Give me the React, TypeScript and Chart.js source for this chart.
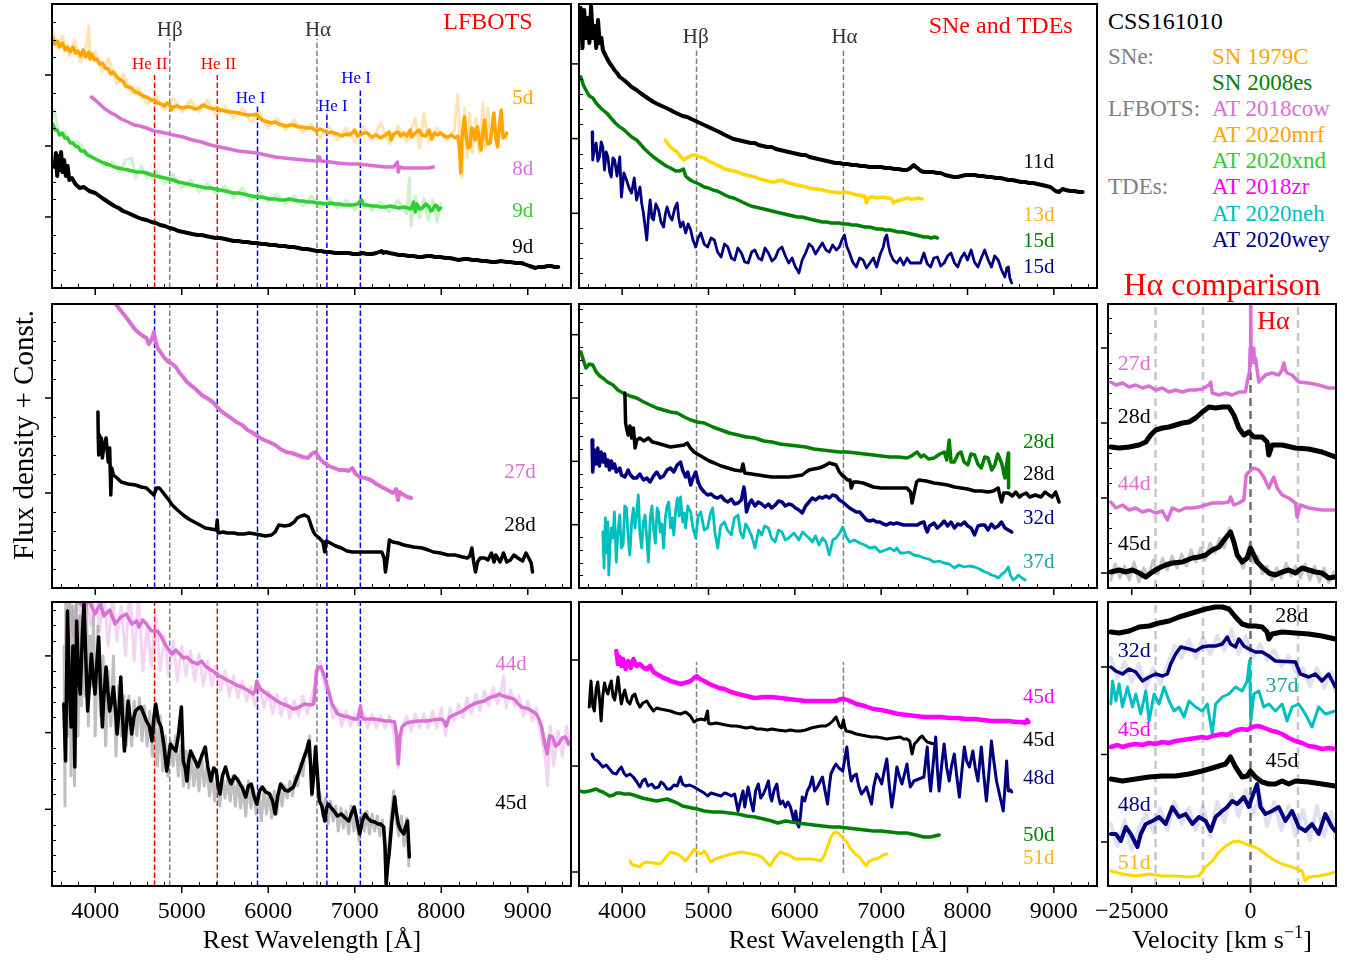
import React, { useEffect, useRef } from "react";
import { Chart, registerables } from "chart.js";

Chart.register(...registerables);

type Pt = [number, number];

// ---------------- tick values / reference lines ----------------
const waveTicks = [4000, 5000, 6000, 7000, 8000, 9000];
const velTicks = [-25000, 0];
const heIILines = [4686, 5411];
const balmerLines = [4861, 6563];
const heILines = [5876, 6678, 7065];
const velGuides = [-20000, -10000, 10000];
const velZero = [0];

const legendHeads = ["SNe:", "LFBOTS:", "TDEs:"];
const legendHeadRows = [0, 2, 5];
const legendNames = ["SN 1979C", "SN 2008es", "AT 2018cow", "AT 2020mrf", "AT 2020xnd", "AT 2018zr", "AT 2020neh", "AT 2020wey"];

// ---------------- top-left: LFBOTs, early ----------------
const mrf5dRaw: Pt[] = [[3508,258],[3560,240],[3620,252],[3700,232],[3760,248],[3830,226],[3900,244],[3925,262],[3940,228],[4000,236],[4080,216],[4150,230],[4250,204],[4330,214],[4420,194],[4500,200],[4600,184],[4700,192],[4800,178],[4900,190],[5000,176],[5100,188],[5200,176],[5300,188],[5400,172],[5500,182],[5600,170],[5700,180],[5800,166],[5900,176],[6000,160],[6100,170],[6200,158],[6300,168],[6400,156],[6500,164],[6600,150],[6700,162],[6800,148],[6900,160],[7000,146],[7100,162],[7200,148],[7300,165],[7400,144],[7500,162],[7600,146],[7700,170],[7750,140],[7800,175],[7850,146],[7950,160],[8050,148],[8150,158],[8190,193],[8240,110],[8270,180],[8300,130],[8330,175],[8360,135],[8400,170],[8440,135],[8480,185],[8510,140],[8540,180],[8560,150]];
const mrf5d: Pt[] = [[3508,250],[3530,244],[3560,247],[3590,241],[3620,245],[3650,238],[3680,241],[3710,236],[3742,241],[3770,235],[3800,237],[3830,232],[3860,238],[3890,231],[3925,236],[3940,229],[3960,234],[3990,228],[4020,229],[4050,224],[4082,225],[4115,220],[4150,219],[4180,214],[4210,216],[4252,211],[4290,208],[4320,207],[4350,202],[4380,201],[4422,200],[4460,196],[4500,195],[4550,192],[4592,191],[4650,188],[4690,187],[4720,185],[4760,184],[4800,182],[4830,185],[4860,184],[4880,178],[4900,181],[4950,182],[5000,180],[5050,181],[5102,181],[5150,179],[5200,180],[5240,183],[5272,182],[5320,180],[5370,179],[5410,180],[5442,178],[5500,177],[5550,176],[5600,176],[5655,175],[5700,174],[5760,173],[5820,173],[5867,174],[5890,171],[5930,168],[5960,167],[6000,166],[6037,165],[6080,166],[6120,164],[6160,163],[6200,162],[6250,163],[6292,163],[6350,161],[6400,161],[6450,160],[6505,160],[6560,157],[6600,159],[6650,157],[6690,155],[6717,156],[6760,155],[6800,154],[6850,152],[6900,154],[6930,153],[6970,155],[7000,158],[7030,152],[7060,153],[7100,155],[7142,155],[7200,151],[7250,153],[7300,150],[7355,153],[7400,156],[7420,148],[7450,154],[7500,156],[7530,152],[7567,155],[7600,152],[7640,158],[7660,151],[7700,155],[7740,158],[7780,153],[7820,152],[7860,158],[7890,149],[7920,155],[7960,153],[7992,155],[8040,152],[8080,151],[8120,153],[8162,150],[8190,152],[8210,140],[8226,115],[8240,150],[8255,162],[8268,171],[8290,150],[8310,140],[8332,141],[8350,160],[8370,158],[8390,148],[8417,161],[8440,148],[8460,138],[8480,155],[8502,168],[8520,150],[8540,144],[8566,145],[8590,162],[8608,175],[8630,150],[8651,141],[8670,160],[8693,178],[8715,150],[8736,151],[8757,155]];
const cow8d: Pt[] = [[3955,191],[4000,188],[4050,184],[4100,180],[4167,176],[4230,173],[4300,169],[4380,166],[4450,163],[4520,162],[4592,160],[4680,157],[4750,156],[4805,155],[4900,153],[5017,151],[5120,148],[5230,146],[5330,143],[5442,141],[5550,139],[5655,137],[5760,136],[5867,135],[5970,133],[6080,131],[6180,130],[6292,129],[6420,128],[6547,127],[6575,127],[6590,131],[6610,127],[6717,126],[6800,125],[6930,124],[7030,124],[7142,123],[7250,122],[7355,121],[7450,121],[7493,126],[7503,116],[7520,121],[7567,120],[7680,120],[7780,120],[7850,120],[7907,121]];
const xnd9dRaw: Pt[] = [[3508,170],[3530,178],[3580,152],[3650,156],[3700,146],[3800,146],[3900,136],[4000,130],[4100,122],[4200,126],[4280,116],[4350,128],[4420,130],[4470,110],[4530,122],[4600,110],[4700,118],[4800,104],[4900,114],[5000,100],[5100,108],[5200,96],[5300,105],[5400,94],[5500,102],[5600,90],[5700,100],[5800,88],[5900,96],[6000,86],[6100,94],[6200,84],[6300,92],[6400,82],[6500,92],[6600,80],[6700,90],[6800,80],[6900,88],[7000,78],[7100,88],[7200,78],[7300,86],[7400,76],[7500,88],[7600,74],[7631,110],[7650,62],[7700,92],[7750,70],[7800,90],[7850,68],[7900,88],[7950,66],[7992,84]];
const xnd9d: Pt[] = [[3508,164],[3535,158],[3560,158],[3590,153],[3615,155],[3650,150],[3680,150],[3710,145],[3742,145],[3770,142],[3800,141],[3835,137],[3870,137],[3910,133],[3955,131],[4000,129],[4050,127],[4100,125],[4167,123],[4220,121],[4270,120],[4320,119],[4380,118],[4430,117],[4480,116],[4530,116],[4592,115],[4650,113],[4700,112],[4750,111],[4805,110],[4850,109],[4900,108],[4960,106],[5017,105],[5070,104],[5120,103],[5180,102],[5230,101],[5280,100],[5330,100],[5390,99],[5442,98],[5500,97],[5550,96],[5600,95],[5655,95],[5710,94],[5760,93],[5810,92],[5867,91],[5920,91],[5970,90],[6020,89],[6080,89],[6130,88],[6190,88],[6240,89],[6292,88],[6350,87],[6400,87],[6450,86],[6505,86],[6560,85],[6610,85],[6660,84],[6717,85],[6770,84],[6820,84],[6870,83],[6930,83],[6980,83],[7030,84],[7080,88],[7100,83],[7142,83],[7200,82],[7250,82],[7300,81],[7355,81],[7410,82],[7460,81],[7510,80],[7567,81],[7610,80],[7650,79],[7680,86],[7700,76],[7720,84],[7750,79],[7780,80],[7820,84],[7850,82],[7880,77],[7900,78],[7930,83],[7950,82],[7970,78],[7992,80]];
const css9d: Pt[] = [[3530,121],[3545,135],[3560,112],[3575,132],[3590,118],[3605,136],[3620,116],[3640,128],[3660,112],[3680,122],[3700,108],[3730,110],[3770,104],[3820,100],[3870,101],[3930,97],[4000,95],[4080,90],[4167,85],[4220,82],[4270,80],[4320,77],[4380,75],[4430,73],[4480,71],[4540,69],[4592,68],[4650,66],[4700,65],[4750,63],[4805,62],[4860,60],[4910,59],[4960,57],[5017,56],[5070,55],[5120,54],[5180,53],[5230,53],[5280,52],[5330,51],[5390,50],[5442,50],[5500,49],[5550,48],[5600,47],[5655,47],[5710,46],[5760,46],[5810,45],[5867,45],[5920,44],[5970,44],[6020,43],[6080,43],[6130,42],[6190,42],[6240,41],[6292,41],[6350,40],[6400,39],[6450,39],[6505,38],[6560,37],[6610,37],[6660,36],[6717,36],[6770,35],[6820,35],[6870,35],[6930,35],[6980,34],[7040,34],[7090,35],[7142,34],[7200,34],[7250,35],[7280,36],[7310,37],[7330,35],[7355,36],[7400,35],[7460,34],[7510,33],[7567,33],[7620,32],[7680,32],[7730,31],[7780,31],[7830,32],[7880,32],[7930,31],[7992,31],[8050,30],[8100,30],[8150,29],[8204,28],[8260,29],[8310,29],[8360,28],[8417,28],[8470,27],[8520,27],[8580,26],[8630,26],[8690,27],[8750,26],[8800,26],[8860,25],[8927,25],[8960,24],[8990,23],[9020,22],[9055,21],[9090,20],[9120,21],[9150,21],[9183,21],[9230,22],[9270,22],[9310,21],[9353,21]];

// ---------------- top-middle: SNe and TDEs, early ----------------
const css11d: Pt[] = [[3502,255],[3520,280],[3540,240],[3560,278],[3580,250],[3600,270],[3620,245],[3640,282],[3660,250],[3680,262],[3700,240],[3720,268],[3740,245],[3760,250],[3776,238],[3810,232],[3854,225],[3880,222],[3910,218],[3940,215],[3972,211],[4020,208],[4060,205],[4110,201],[4167,198],[4210,195],[4260,192],[4310,189],[4363,186],[4410,184],[4460,182],[4510,180],[4559,178],[4600,176],[4650,174],[4700,172],[4754,171],[4800,169],[4850,167],[4900,165],[4950,163],[5000,161],[5050,159],[5100,157],[5146,155],[5190,153],[5240,151],[5290,149],[5342,148],[5390,147],[5440,146],[5490,145],[5538,145],[5580,143],[5630,142],[5680,141],[5733,141],[5780,139],[5830,138],[5880,137],[5929,136],[5980,135],[6030,134],[6080,133],[6125,133],[6170,131],[6220,130],[6270,129],[6320,128],[6370,127],[6420,126],[6470,125],[6516,125],[6560,124],[6610,124],[6660,123],[6712,123],[6760,122],[6810,122],[6860,121],[6908,121],[6950,121],[7000,121],[7050,120],[7104,120],[7150,119],[7200,119],[7250,118],[7299,118],[7340,120],[7378,123],[7400,121],[7420,120],[7460,117],[7495,116],[7550,116],[7600,116],[7650,115],[7691,115],[7740,113],[7790,112],[7840,111],[7886,111],[7930,112],[7980,113],[8030,113],[8082,113],[8130,112],[8180,112],[8230,111],[8278,111],[8330,110],[8380,110],[8430,109],[8473,108],[8520,108],[8570,107],[8620,106],[8669,106],[8710,105],[8760,105],[8810,104],[8864,103],[8910,102],[8960,101],[8990,99],[9020,97],[9060,96],[9100,99],[9138,98],[9190,97],[9240,97],[9290,96],[9334,96]];
const sn1979c13d: Pt[] = [[4500,148],[4530,144],[4559,141],[4600,138],[4637,136],[4680,131],[4715,128],[4745,130],[4774,131],[4810,133],[4852,133],[4900,131],[4950,130],[5000,127],[5050,125],[5100,123],[5146,121],[5190,119],[5240,118],[5290,117],[5342,116],[5390,114],[5440,113],[5490,112],[5538,111],[5590,109],[5640,108],[5690,107],[5733,106],[5770,106],[5800,107],[5851,108],[5890,106],[5929,105],[5980,104],[6030,103],[6080,102],[6125,101],[6170,100],[6220,99],[6270,99],[6320,98],[6370,97],[6420,96],[6470,96],[6516,95],[6580,96],[6634,95],[6680,94],[6712,93],[6750,93],[6780,92],[6810,92],[6830,85],[6850,89],[6869,91],[6910,91],[6960,90],[7010,91],[7065,90],[7100,90],[7120,89],[7143,85],[7160,86],[7180,87],[7221,88],[7260,89],[7299,90],[7340,89],[7380,89],[7430,90],[7475,89]];
const sn2008es15d: Pt[] = [[3522,211],[3550,203],[3580,198],[3620,192],[3660,190],[3698,185],[3740,181],[3776,178],[3820,175],[3870,170],[3920,165],[3972,161],[4010,159],[4060,155],[4110,151],[4167,148],[4210,144],[4260,139],[4310,135],[4363,131],[4410,128],[4460,125],[4510,122],[4559,120],[4620,117],[4660,117],[4690,118],[4710,119],[4735,112],[4760,110],[4790,108],[4833,106],[4890,104],[4950,101],[5000,100],[5050,98],[5100,97],[5146,95],[5190,93],[5240,91],[5290,90],[5342,88],[5390,86],[5440,84],[5490,82],[5538,81],[5590,80],[5640,79],[5690,78],[5733,77],[5780,76],[5830,75],[5880,74],[5929,73],[5980,72],[6030,71],[6080,71],[6125,70],[6170,69],[6220,68],[6270,67],[6320,66],[6370,66],[6420,65],[6470,65],[6516,65],[6560,64],[6610,64],[6660,63],[6712,63],[6760,62],[6810,61],[6860,61],[6908,60],[6950,59],[7000,59],[7050,58],[7104,58],[7150,57],[7200,56],[7250,56],[7299,55],[7350,54],[7400,53],[7450,52],[7495,51],[7540,51],[7580,50],[7620,51],[7651,50]];
const wey15d: Pt[] = [[3651,156],[3659,128],[3680,140],[3698,145],[3718,127],[3737,131],[3757,146],[3776,141],[3795,118],[3815,136],[3835,131],[3855,116],[3874,111],[3893,130],[3913,128],[3940,112],[3972,131],[3991,91],[4020,115],[4050,108],[4080,100],[4109,95],[4140,110],[4167,88],[4206,101],[4226,85],[4246,75],[4265,62],[4285,48],[4305,72],[4324,88],[4345,70],[4363,68],[4390,84],[4422,78],[4450,66],[4480,61],[4500,74],[4520,81],[4550,72],[4578,68],[4610,80],[4637,85],[4655,70],[4676,61],[4705,66],[4735,55],[4765,64],[4794,58],[4820,48],[4852,41],[4880,50],[4911,55],[4950,44],[4989,41],[5030,50],[5068,48],[5105,36],[5146,31],[5185,44],[5224,41],[5265,30],[5303,28],[5340,40],[5381,35],[5420,26],[5459,25],[5500,36],[5538,38],[5578,30],[5616,28],[5655,40],[5694,35],[5735,27],[5773,30],[5810,38],[5851,41],[5890,32],[5929,25],[5968,30],[6007,21],[6030,18],[6047,15],[6085,28],[6125,35],[6165,44],[6203,41],[6240,34],[6281,40],[6320,45],[6360,38],[6400,36],[6438,43],[6480,38],[6516,41],[6545,48],[6575,53],[6600,42],[6634,35],[6670,26],[6712,21],[6750,30],[6790,28],[6830,20],[6869,25],[6910,30],[6947,21],[6990,34],[7025,41],[7045,50],[7065,53],[7085,42],[7104,35],[7140,28],[7182,25],[7220,30],[7260,23],[7300,30],[7338,25],[7400,25],[7456,25],[7475,30],[7495,35],[7535,24],[7573,21],[7610,30],[7651,31],[7690,22],[7729,25],[7770,32],[7808,35],[7850,25],[7886,21],[7925,30],[7964,35],[8000,28],[8042,38],[8080,26],[8121,21],[8160,30],[8199,38],[8240,28],[8277,21],[8315,32],[8355,28],[8395,18],[8433,11],[8455,20],[8473,21],[8490,10],[8512,5]];

// ---------------- middle-left: LFBOTs, ~4 weeks ----------------
const cow27d: Pt[] = [[4200,295],[4231,285],[4280,279],[4337,273],[4380,268],[4422,263],[4465,258],[4507,255],[4550,252],[4592,250],[4620,244],[4635,246],[4660,250],[4677,256],[4700,246],[4720,240],[4762,235],[4800,230],[4847,226],[4890,224],[4932,221],[4975,215],[5017,211],[5060,206],[5102,203],[5160,199],[5230,193],[5290,190],[5357,186],[5400,182],[5442,178],[5500,174],[5570,170],[5630,166],[5698,163],[5760,158],[5825,155],[5890,151],[5952,148],[6010,146],[6080,143],[6140,139],[6207,136],[6270,135],[6335,133],[6400,131],[6462,130],[6500,134],[6547,136],[6590,130],[6632,126],[6700,122],[6760,120],[6820,118],[6887,118],[6930,117],[6972,120],[7010,114],[7057,111],[7120,110],[7185,108],[7250,104],[7312,101],[7380,98],[7440,95],[7480,99],[7500,88],[7520,96],[7567,93],[7610,91],[7652,90]];
const css28dA: Pt[] = [[4031,176],[4035,150],[4040,133],[4050,153],[4060,138],[4070,150],[4082,130],[4100,142],[4125,150],[4150,126],[4167,140],[4180,93],[4190,120],[4210,113],[4252,110],[4300,106],[4380,104],[4465,103],[4530,101],[4592,100],[4640,96],[4677,93],[4710,100],[4741,100],[4770,97],[4805,93],[4850,88],[4890,83],[4950,78],[5017,73],[5080,69],[5145,66],[5210,63],[5272,60],[5340,59],[5400,58],[5410,68],[5420,55],[5480,56],[5527,55],[5600,55],[5655,54],[5720,54],[5782,55],[5850,54],[5910,53],[5970,52],[6037,53],[6080,56],[6122,63],[6190,62],[6250,63],[6300,66],[6335,70],[6380,72],[6420,73],[6462,71],[6490,64],[6505,60],[6530,55],[6547,53],[6590,50],[6632,46],[6653,36],[6670,47],[6717,45],[6780,42],[6845,40],[6910,37],[6972,36],[7060,36],[7142,36],[7230,36],[7312,36],[7340,30],[7355,16],[7380,32],[7400,48],[7440,46],[7500,45],[7567,43],[7680,41],[7780,40],[7850,38],[7907,36],[7990,35],[8077,33],[8160,33],[8247,31],[8300,30],[8330,32],[8354,40],[8375,26],[8396,16],[8420,26],[8450,30],[8502,30],[8540,28],[8580,35],[8610,26],[8630,33],[8680,26],[8720,35],[8757,26],[8800,28],[8840,33],[8885,30],[8940,27],[8980,35],[9012,30],[9040,25],[9055,16]];

// ---------------- middle-middle: SNe and TDEs, ~4-5 weeks ----------------
const sn2008es28d: Pt[] = [[3522,236],[3550,228],[3580,220],[3620,224],[3659,223],[3700,216],[3740,212],[3776,210],[3830,206],[3894,203],[3950,198],[4011,195],[4090,192],[4167,190],[4250,186],[4324,183],[4400,180],[4480,178],[4560,176],[4637,175],[4720,171],[4794,168],[4870,166],[4950,165],[5050,161],[5146,158],[5240,155],[5342,153],[5440,151],[5538,150],[5640,147],[5733,146],[5830,144],[5929,143],[6030,142],[6125,141],[6220,139],[6320,138],[6420,137],[6516,136],[6610,136],[6712,135],[6810,134],[6908,133],[7000,132],[7104,131],[7200,131],[7299,130],[7350,132],[7417,136],[7460,131],[7495,133],[7550,129],[7612,130],[7680,134],[7730,136],[7760,128],[7788,148],[7810,126],[7847,126],[7890,134],[7925,136],[7960,126],[8003,123],[8040,134],[8082,133],[8120,124],[8160,120],[8200,131],[8238,130],[8280,118],[8316,123],[8350,134],[8395,125],[8434,110],[8460,128],[8473,135],[8476,100]];
const css28dB: Pt[] = [[4031,195],[4040,165],[4050,160],[4070,153],[4090,162],[4110,150],[4130,160],[4150,140],[4170,148],[4206,150],[4250,147],[4305,150],[4350,146],[4402,145],[4480,143],[4559,141],[4640,142],[4716,143],[4754,145],[4790,140],[4833,136],[4890,133],[4950,130],[5010,127],[5068,125],[5146,122],[5225,120],[5300,118],[5380,117],[5400,124],[5420,115],[5500,114],[5577,113],[5650,112],[5733,111],[5830,111],[5929,111],[6010,112],[6086,113],[6130,116],[6164,118],[6220,119],[6281,120],[6340,122],[6399,125],[6440,124],[6477,123],[6500,119],[6516,116],[6545,113],[6575,111],[6610,108],[6640,108],[6653,100],[6680,106],[6720,106],[6790,105],[6850,103],[6908,101],[7000,100],[7104,100],[7200,100],[7299,100],[7340,96],[7358,85],[7380,94],[7410,106],[7436,108],[7520,107],[7612,105],[7700,104],[7769,103],[7850,101],[7925,100],[8000,99],[8082,97],[8160,97],[8238,96],[8300,97],[8356,100],[8375,92],[8395,86],[8420,95],[8473,95],[8520,92],[8560,96],[8600,91],[8630,93],[8680,95],[8720,91],[8786,93],[8850,91],[8900,96],[8943,93],[8980,91],[9021,96],[9045,90],[9060,86]];
const wey32d: Pt[] = [[3651,148],[3659,116],[3678,138],[3698,124],[3717,140],[3737,122],[3757,136],[3776,126],[3796,134],[3815,122],[3835,128],[3854,118],[3874,127],[3893,120],[3913,124],[3932,116],[3972,120],[3991,113],[4031,111],[4070,118],[4089,114],[4128,110],[4167,110],[4206,114],[4246,108],[4285,110],[4324,106],[4363,112],[4402,116],[4441,110],[4480,112],[4520,118],[4559,120],[4598,116],[4637,123],[4676,126],[4700,118],[4735,111],[4760,116],[4794,103],[4820,110],[4852,116],[4880,106],[4911,100],[4950,96],[4989,93],[5030,94],[5068,91],[5107,90],[5146,92],[5185,88],[5224,86],[5264,89],[5303,84],[5342,85],[5381,88],[5410,101],[5420,96],[5440,76],[5470,84],[5499,88],[5538,82],[5577,86],[5616,84],[5655,81],[5694,84],[5733,80],[5773,83],[5812,87],[5851,86],[5890,82],[5929,84],[5968,83],[6007,80],[6047,78],[6086,75],[6125,82],[6164,86],[6203,90],[6242,88],[6281,91],[6320,90],[6360,92],[6399,90],[6438,93],[6477,92],[6516,88],[6555,86],[6594,83],[6634,80],[6673,78],[6712,76],[6751,76],[6790,72],[6830,68],[6869,67],[6908,68],[6947,66],[6986,66],[7025,64],[7065,63],[7104,65],[7143,64],[7182,65],[7221,64],[7260,63],[7299,63],[7378,63],[7420,63],[7456,65],[7495,66],[7515,60],[7534,56],[7560,62],[7612,65],[7650,60],[7690,63],[7730,67],[7770,62],[7808,66],[7850,60],[7886,64],[7925,63],[7964,66],[8003,62],[8042,60],[8082,53],[8121,62],[8160,63],[8199,63],[8238,58],[8277,64],[8316,60],[8355,62],[8394,66],[8433,60],[8473,58],[8512,56]];
const neh37d: Pt[] = [[3776,56],[3790,20],[3805,70],[3820,35],[3835,66],[3845,13],[3860,45],[3875,60],[3893,50],[3910,76],[3932,26],[3950,55],[3972,73],[3990,40],[4011,43],[4030,82],[4050,80],[4070,50],[4089,33],[4110,66],[4130,80],[4148,60],[4165,72],[4187,93],[4205,55],[4226,40],[4245,66],[4265,73],[4285,50],[4304,26],[4325,70],[4345,82],[4363,60],[4385,45],[4405,80],[4422,76],[4440,56],[4460,64],[4480,40],[4500,70],[4520,82],[4539,86],[4560,60],[4580,70],[4598,53],[4620,78],[4640,90],[4660,72],[4676,91],[4700,66],[4720,75],[4735,60],[4760,82],[4794,76],[4820,60],[4852,50],[4880,72],[4911,76],[4950,58],[4989,60],[5020,74],[5048,80],[5075,55],[5107,40],[5140,62],[5185,66],[5220,58],[5264,53],[5300,70],[5342,73],[5370,56],[5401,50],[5430,64],[5459,60],[5500,52],[5538,40],[5580,58],[5616,53],[5650,62],[5694,60],[5730,50],[5773,46],[5810,58],[5851,56],[5890,48],[5929,50],[5990,55],[6047,48],[6090,56],[6125,53],[6165,50],[6203,46],[6240,52],[6281,43],[6320,50],[6360,46],[6399,33],[6440,48],[6477,50],[6520,55],[6555,61],[6590,52],[6634,46],[6690,48],[6751,45],[6810,43],[6869,40],[6930,41],[6986,36],[7050,38],[7104,40],[7150,37],[7182,40],[7220,35],[7260,35],[7320,36],[7378,33],[7440,32],[7495,30],[7550,29],[7612,26],[7670,27],[7729,25],[7790,24],[7847,20],[7900,23],[7964,21],[8020,22],[8082,21],[8140,19],[8199,16],[8240,15],[8277,13],[8320,12],[8355,10],[8400,14],[8433,16],[8473,21],[8500,12],[8531,8],[8560,10],[8590,13],[8630,10],[8668,8]];

// ---------------- bottom-left: LFBOTs, ~6 weeks ----------------
const cow44dRaw: Pt[] = [[3700,300],[3750,250],[3800,300],[3850,240],[3900,300],[3950,260],[4000,300],[4050,255],[4100,295],[4150,240],[4200,290],[4250,245],[4300,280],[4350,230],[4400,300],[4450,225],[4500,290],[4550,215],[4600,260],[4650,220],[4700,270],[4750,215],[4800,250],[4850,210],[4900,245],[4950,205],[5000,240],[5050,210],[5100,235],[5150,205],[5200,232],[5250,200],[5300,225],[5350,200],[5400,220],[5450,195],[5500,215],[5550,190],[5600,210],[5650,188],[5700,205],[5750,185],[5800,200],[5850,180],[5900,200],[5950,178],[6000,195],[6050,172],[6100,192],[6150,170],[6200,188],[6250,168],[6300,185],[6350,170],[6400,190],[6450,172],[6500,188],[6550,205],[6600,225],[6650,200],[6700,190],[6750,168],[6800,178],[6850,160],[6900,175],[6950,160],[7000,172],[7050,160],[7100,174],[7150,158],[7200,172],[7250,158],[7300,170],[7350,158],[7400,170],[7450,155],[7500,118],[7550,160],[7600,170],[7650,155],[7700,172],[7750,158],[7800,172],[7850,158],[7900,175],[7950,158],[8000,178],[8050,150],[8100,178],[8150,165],[8200,182],[8250,168],[8300,188],[8350,172],[8400,192],[8450,175],[8500,195],[8550,180],[8600,198],[8650,182],[8700,200],[8720,210],[8750,178],[8800,196],[8850,180],[8900,190],[8950,170],[9000,185],[9050,165],[9100,178],[9150,150],[9200,130],[9230,100],[9260,160],[9300,120],[9350,155],[9400,130],[9450,160],[9500,135]];
const cow44d: Pt[] = [[3742,300],[3800,285],[3870,279],[3930,286],[3997,272],[4060,282],[4100,270],[4167,276],[4230,262],[4295,269],[4360,272],[4422,262],[4480,265],[4507,259],[4550,266],[4592,262],[4650,255],[4720,255],[4760,250],[4805,242],[4850,236],[4890,232],[4930,236],[4975,232],[5020,228],[5060,229],[5120,224],[5187,222],[5230,225],[5272,220],[5320,217],[5357,215],[5400,212],[5442,210],[5500,207],[5570,204],[5630,201],[5697,199],[5760,196],[5825,192],[5850,195],[5867,205],[5890,200],[5910,197],[5970,193],[6037,189],[6100,185],[6165,182],[6230,180],[6292,177],[6360,179],[6420,182],[6480,181],[6526,182],[6545,200],[6556,215],[6580,218],[6611,219],[6630,214],[6653,209],[6675,202],[6696,195],[6720,188],[6738,182],[6770,177],[6802,172],[6870,170],[6930,169],[6990,167],[7036,167],[7066,180],[7080,170],[7100,167],[7160,167],[7227,167],[7290,166],[7355,165],[7410,165],[7461,164],[7485,150],[7503,122],[7520,148],[7546,159],[7600,163],[7652,164],[7740,165],[7822,165],[7900,166],[7992,167],[8030,165],[8056,160],[8080,166],[8098,169],[8170,172],[8247,175],[8310,179],[8375,182],[8440,184],[8502,185],[8550,188],[8587,189],[8630,190],[8672,192],[8710,190],[8757,189],[8800,188],[8842,187],[8890,182],[8927,179],[8970,178],[9012,177],[9050,175],[9097,172],[9130,167],[9161,159],[9190,145],[9225,132],[9250,150],[9288,149],[9320,140],[9352,142],[9400,148],[9437,149],[9470,142],[9501,145]];
const css45dRawA: Pt[] = [[3640,240],[3650,80],[3660,300],[3680,150],[3700,300],[3720,110],[3740,280],[3760,100],[3780,300],[3800,150],[3820,270],[3840,180],[3860,300],[3880,190],[3900,280],[3920,160],[3940,250],[3960,200],[3980,270],[4000,150],[4030,260],[4060,170],[4090,230],[4120,140],[4150,215],[4180,160],[4210,230],[4240,130],[4270,200],[4300,150],[4330,190],[4360,140],[4390,190],[4420,140],[4450,185],[4480,150],[4510,188],[4540,145],[4570,180],[4600,140],[4630,175],[4660,130],[4690,180],[4720,120],[4750,170],[4780,115],[4810,150],[4840,110],[4870,145],[4900,120],[4930,150],[4960,110],[4990,140],[5020,100],[5050,135],[5080,98],[5110,130],[5140,100],[5170,125],[5200,95],[5230,130],[5260,100],[5290,120],[5320,90],[5350,115],[5380,85],[5410,110],[5440,80],[5470,112],[5500,88],[5530,105],[5560,85],[5590,110],[5620,80],[5650,108],[5680,78],[5710,100],[5740,70],[5770,105],[5800,78],[5830,98],[5860,72],[5890,95],[5920,65],[5950,98],[5980,72],[6010,94],[6040,68],[6070,95],[6100,72],[6130,100],[6160,80],[6190,100],[6220,88],[6250,105],[6280,90],[6310,110],[6340,100],[6370,122],[6400,110],[6430,135],[6460,130],[6480,150],[6500,90],[6530,120],[6550,140],[6570,95],[6600,92],[6630,70],[6660,88],[6690,62],[6720,85],[6750,65],[6780,80],[6810,55],[6840,78],[6870,58],[6900,75],[6930,52],[6960,80],[6990,55],[7020,70],[7050,45],[7080,72],[7110,55],[7140,75],[7170,52],[7200,72],[7230,55],[7260,70],[7290,50],[7320,66],[7350,30],[7365,0],[7390,35],[7420,70],[7450,95],[7480,65],[7510,50],[7540,70],[7570,40],[7600,68],[7625,20]];
const css45dA: Pt[] = [[3636,182],[3657,125],[3679,275],[3700,200],[3721,159],[3742,240],[3764,119],[3785,265],[3806,210],[3827,192],[3850,250],[3870,282],[3890,230],[3912,175],[3935,205],[3955,232],[3975,210],[3997,192],[4020,225],[4040,249],[4060,200],[4082,159],[4100,190],[4125,219],[4145,195],[4167,175],[4190,185],[4210,199],[4230,180],[4252,152],[4275,175],[4295,209],[4315,170],[4337,135],[4360,160],[4380,185],[4400,170],[4422,152],[4445,168],[4465,175],[4500,178],[4529,179],[4560,172],[4592,165],[4625,160],[4656,145],[4680,170],[4699,182],[4730,165],[4762,159],[4795,140],[4826,115],[4850,130],[4869,142],[4900,138],[4932,135],[4960,150],[4996,179],[5017,125],[5040,118],[5060,105],[5080,125],[5102,135],[5140,128],[5187,119],[5230,130],[5272,139],[5300,120],[5336,105],[5370,118],[5400,115],[5420,100],[5442,92],[5470,110],[5506,119],[5540,108],[5570,102],[5610,110],[5655,105],[5700,98],[5740,89],[5770,100],[5804,102],[5835,90],[5867,82],[5900,95],[5931,99],[5970,94],[6016,92],[6050,85],[6080,72],[6110,90],[6144,102],[6190,96],[6229,95],[6260,97],[6292,99],[6330,108],[6377,119],[6410,128],[6441,135],[6471,145],[6490,120],[6505,92],[6525,110],[6547,139],[6570,110],[6590,85],[6620,80],[6653,65],[6675,78],[6696,82],[6730,78],[6760,75],[6800,70],[6845,72],[6890,68],[6930,65],[6960,72],[6994,79],[7020,68],[7057,52],[7090,66],[7121,72],[7150,68],[7185,65],[7230,64],[7270,62],[7300,62],[7334,59],[7350,40],[7363,2],[7380,20],[7397,32],[7430,65],[7461,89],[7480,75],[7503,62],[7530,56],[7567,52],[7590,60],[7610,65],[7631,29]];

// ---------------- bottom-middle: SNe and TDEs, ~6-7 weeks ----------------
const zr45d: Pt[] = [[3932,235],[3952,222],[3972,229],[3991,220],[4011,227],[4040,217],[4070,225],[4100,218],[4130,227],[4167,220],[4206,222],[4250,218],[4285,217],[4324,220],[4363,214],[4400,212],[4441,210],[4480,208],[4520,207],[4559,205],[4600,204],[4637,203],[4676,202],[4720,203],[4760,204],[4794,205],[4830,208],[4864,210],[4900,207],[4950,205],[5010,202],[5068,200],[5120,198],[5185,197],[5260,194],[5342,192],[5440,190],[5538,188],[5640,189],[5733,189],[5830,188],[5929,187],[6030,186],[6125,185],[6220,185],[6320,185],[6400,185],[6477,185],[6530,187],[6575,187],[6640,185],[6712,182],[6810,180],[6908,177],[7000,176],[7104,174],[7200,172],[7299,171],[7400,170],[7495,169],[7600,169],[7690,169],[7790,168],[7886,168],[7980,167],[8082,167],[8180,166],[8277,165],[8380,165],[8473,165],[8560,164],[8629,164],[8670,163],[8690,166],[8707,164]];
const css45dB: Pt[] = [[3619,179],[3630,195],[3639,205],[3660,180],[3678,175],[3700,198],[3717,204],[3740,185],[3756,165],[3775,190],[3796,203],[3815,196],[3835,192],[3855,200],[3874,205],[3893,190],[3913,186],[3932,196],[3952,209],[3970,195],[3991,182],[4010,190],[4030,196],[4060,185],[4089,182],[4120,190],[4148,192],[4175,184],[4206,179],[4240,183],[4285,185],[4320,180],[4363,175],[4400,178],[4441,177],[4500,176],[4559,175],[4620,173],[4676,172],[4735,174],[4790,170],[4833,164],[4870,166],[4911,167],[4960,166],[4989,175],[5000,163],[5028,162],[5090,163],[5146,162],[5200,161],[5264,160],[5320,160],[5381,159],[5440,158],[5499,159],[5560,157],[5616,157],[5680,156],[5733,157],[5800,156],[5890,155],[5950,156],[6007,155],[6070,155],[6125,156],[6190,158],[6242,159],[6300,160],[6360,160],[6400,162],[6438,165],[6477,169],[6500,164],[6516,160],[6540,158],[6563,166],[6575,160],[6594,155],[6650,154],[6712,152],[6770,151],[6829,150],[6890,149],[6947,149],[7010,148],[7065,147],[7140,148],[7221,149],[7260,147],[7299,147],[7330,145],[7358,132],[7385,142],[7417,145],[7445,148],[7475,150],[7500,147],[7534,144],[7570,143],[7612,142]];
const wey48d: Pt[] = [[3651,132],[3678,127],[3717,125],[3776,119],[3815,121],[3854,117],[3893,113],[3932,112],[3960,116],[3991,119],[4020,113],[4050,110],[4090,112],[4128,109],[4170,104],[4206,99],[4235,105],[4265,107],[4300,100],[4343,102],[4380,98],[4422,99],[4450,104],[4480,102],[4520,97],[4559,97],[4600,101],[4637,100],[4676,109],[4700,102],[4735,100],[4780,101],[4833,99],[4870,97],[4911,95],[4950,93],[4989,90],[5030,93],[5068,92],[5107,91],[5146,90],[5185,93],[5224,92],[5264,90],[5303,92],[5342,75],[5381,89],[5400,95],[5420,79],[5440,90],[5459,99],[5490,85],[5518,75],[5545,95],[5577,102],[5605,88],[5636,92],[5665,98],[5694,105],[5715,90],[5733,85],[5760,96],[5792,102],[5810,90],[5831,82],[5860,85],[5890,79],[5920,84],[5949,79],[5970,72],[5988,65],[6010,75],[6030,62],[6047,59],[6065,70],[6086,89],[6115,85],[6144,95],[6175,100],[6203,109],[6230,95],[6262,99],[6290,104],[6320,109],[6350,95],[6379,82],[6400,100],[6418,112],[6450,118],[6477,122],[6510,118],[6555,115],[6575,125],[6602,139],[6625,120],[6653,105],[6680,110],[6712,112],[6740,100],[6771,92],[6800,95],[6829,99],[6860,90],[6888,82],[6915,100],[6947,112],[6975,108],[7006,102],[7035,115],[7065,127],[7095,100],[7123,79],[7150,95],[7182,119],[7210,110],[7241,102],[7270,112],[7299,122],[7320,108],[7338,99],[7360,102],[7378,105],[7495,109],[7515,125],[7534,139],[7555,110],[7573,95],[7600,120],[7632,149],[7650,118],[7671,95],[7700,120],[7729,142],[7760,118],[7788,105],[7815,120],[7847,132],[7875,110],[7906,89],[7935,115],[7964,139],[7990,125],[8023,119],[8045,128],[8062,135],[8090,118],[8121,105],[8140,122],[8160,139],[8190,110],[8219,85],[8250,115],[8277,145],[8305,125],[8336,105],[8375,90],[8414,75],[8435,100],[8453,125],[8473,95],[8500,96],[8512,94]];
const sn2008es50d: Pt[] = [[3502,95],[3560,94],[3619,95],[3660,96],[3698,97],[3740,95],[3776,94],[3815,92],[3854,90],[3900,91],[3935,93],[3972,93],[4020,92],[4089,92],[4130,91],[4167,90],[4230,88],[4285,87],[4340,86],[4400,85],[4460,86],[4520,87],[4580,85],[4637,83],[4700,80],[4754,79],[4810,78],[4870,77],[4950,75],[5050,74],[5146,74],[5240,73],[5342,72],[5440,70],[5538,69],[5640,67],[5733,65],[5800,63],[5850,64],[5890,65],[5960,64],[6040,63],[6125,62],[6220,61],[6320,60],[6420,59],[6516,59],[6610,58],[6712,57],[6810,56],[6908,55],[7000,55],[7104,54],[7200,53],[7299,53],[7400,51],[7495,49],[7570,49],[7620,50],[7671,51]];
const sn1979c51d: Pt[] = [[4089,25],[4109,22],[4128,21],[4170,20],[4206,19],[4230,22],[4285,24],[4360,23],[4441,22],[4500,28],[4559,34],[4600,33],[4637,32],[4690,29],[4735,25],[4790,31],[4833,37],[4870,34],[4911,32],[4950,35],[4989,30],[5028,24],[5080,27],[5146,29],[5220,31],[5264,32],[5330,33],[5381,34],[5440,33],[5499,32],[5560,31],[5616,29],[5670,24],[5714,20],[5770,28],[5831,34],[5890,32],[5929,31],[6007,27],[6080,27],[6125,27],[6203,27],[6262,26],[6300,25],[6340,30],[6359,35],[6390,42],[6418,49],[6450,53],[6477,54],[6516,52],[6555,48],[6594,45],[6640,38],[6672,35],[6710,31],[6751,29],[6790,24],[6829,20],[6850,24],[6869,25],[6920,27],[6947,27],[6990,29],[7025,31],[7065,32]];

// ---------------- right-middle: H-alpha velocity, LFBOTs vs CSS161010 ----------------
const vCow27d: Pt[] = [[-29400,206],[-28350,203],[-26950,205],[-25550,201],[-24150,203],[-22750,200],[-21350,202],[-19950,198],[-18550,200],[-17150,196],[-15750,198],[-14350,196],[-12950,198],[-11550,198],[-10150,199],[-8750,203],[-8400,206],[-8050,195],[-6650,193],[-5250,195],[-3850,193],[-2450,196],[-1050,196],[-700,206],[-210,216],[-70,240],[0,300],[70,300],[140,230],[210,240],[450,226],[700,240],[850,225],[1050,230],[1750,206],[3150,213],[4550,215],[5950,213],[6650,218],[7000,225],[7350,218],[7700,215],[8750,213],[10150,206],[12250,205],[14350,203],[16450,200],[17850,200]];
const vCss28d: Pt[] = [[-29400,141],[-27650,140],[-25550,141],[-23450,143],[-22050,146],[-21000,153],[-19950,158],[-18550,160],[-17150,161],[-15750,163],[-14350,165],[-12950,166],[-11550,170],[-10150,176],[-8750,181],[-7350,180],[-5950,181],[-4550,181],[-3500,173],[-2450,160],[-1400,153],[-350,156],[700,151],[2450,151],[3500,146],[3850,133],[4550,143],[6650,143],[9450,140],[12250,139],[15050,136],[17850,131]];
const vCow44d: Pt[] = [[-29400,86],[-28350,80],[-26950,83],[-25550,78],[-24150,80],[-22750,76],[-21350,78],[-19950,75],[-18550,77],[-17500,68],[-16450,80],[-15050,77],[-13650,80],[-12250,80],[-10850,81],[-9450,83],[-8050,85],[-5950,85],[-4550,86],[-4200,91],[-3500,83],[-2450,85],[-1400,88],[-910,113],[-350,116],[700,120],[1750,118],[2800,111],[3850,100],[4900,111],[5600,100],[6650,93],[8050,90],[9450,85],[9800,71],[10500,83],[12250,80],[15050,78],[17850,78]];
const vCss45dRaw: Pt[] = [[-29400,8],[-28500,24],[-27500,10],[-26500,22],[-25500,8],[-24500,26],[-23500,6],[-22500,20],[-21500,12],[-20500,28],[-19500,14],[-18500,30],[-17500,18],[-16500,32],[-15500,20],[-14500,34],[-13500,22],[-12500,38],[-11500,26],[-10500,40],[-9500,28],[-8500,45],[-7500,35],[-6500,50],[-5500,40],[-4500,60],[-3500,45],[-2500,30],[-1500,20],[-500,38],[0,46],[500,25],[1500,32],[2500,14],[3500,22],[4500,8],[5500,20],[6500,10],[7500,25],[8500,12],[9500,22],[10500,10],[11500,24],[12500,8],[13500,22],[14500,6],[15500,20],[16500,5],[17500,16]];
const vCss45d: Pt[] = [[-29400,16],[-27650,18],[-26250,16],[-24850,18],[-23450,15],[-22050,11],[-20650,16],[-19250,20],[-17850,23],[-16450,25],[-14350,26],[-12250,30],[-10850,31],[-9450,33],[-8050,38],[-6650,41],[-5250,50],[-4200,56],[-3500,46],[-2800,33],[-1750,26],[-700,30],[0,40],[700,33],[1400,26],[2450,21],[3850,15],[5250,13],[6650,16],[8050,18],[9450,15],[10850,20],[12250,18],[13650,16],[15050,15],[16450,10],[17850,11]];

// ---------------- right-bottom: H-alpha velocity, SNe/TDEs vs CSS161010 ----------------
const vCss28dB: Pt[] = [[-29400,254],[-27650,253],[-25550,255],[-23450,259],[-21350,260],[-19250,263],[-17150,265],[-15050,269],[-12950,272],[-11550,274],[-9450,277],[-7350,279],[-5950,279],[-4550,277],[-3150,269],[-1750,262],[-350,260],[1050,260],[2450,259],[3500,254],[3850,247],[4550,252],[6650,254],[9450,253],[12250,252],[15050,250],[17850,247]];
const vWey32dRaw: Pt[] = [[-29400,228],[-28000,208],[-26500,224],[-25000,204],[-23500,222],[-22000,198],[-20500,218],[-19000,202],[-17500,220],[-16000,240],[-14500,228],[-13000,246],[-11500,228],[-10000,248],[-8500,232],[-7000,250],[-5500,236],[-4000,256],[-2500,232],[-1000,250],[500,228],[2000,242],[3500,226],[5000,236],[6500,220],[8000,230],[9500,214],[11000,218],[12500,200],[14000,218],[15500,198],[17000,214],[17850,195]];
const vWey32d: Pt[] = [[-29400,219],[-28350,215],[-26950,212],[-25550,217],[-24150,214],[-22750,205],[-21350,209],[-19950,212],[-18550,210],[-17500,212],[-16800,222],[-15750,232],[-14700,239],[-12950,237],[-11550,235],[-10150,239],[-8750,240],[-7350,240],[-5950,242],[-4900,249],[-4200,242],[-3150,239],[-2450,247],[-1400,240],[-350,237],[1050,234],[2450,234],[3850,230],[5250,225],[9450,224],[10500,212],[12250,209],[13650,212],[15050,205],[16450,212],[17850,199]];
const vNeh37d: Pt[] = [[-29400,182],[-29050,205],[-28350,185],[-27650,202],[-26950,179],[-25900,199],[-24850,179],[-24150,192],[-23100,172],[-22050,195],[-21350,165],[-20300,192],[-19250,182],[-18200,199],[-17150,185],[-16100,175],[-15050,179],[-14000,169],[-12950,185],[-11550,179],[-10150,175],[-9100,182],[-8050,152],[-7350,182],[-5950,189],[-4550,192],[-3150,199],[-1750,195],[-700,205],[-210,225],[70,165],[700,192],[1750,195],[2800,179],[3850,182],[5250,175],[6650,182],[7700,165],[8750,179],[10150,182],[11550,172],[12950,159],[14350,179],[15750,172],[17850,175]];
const vZr45d: Pt[] = [[-29400,139],[-28000,141],[-26950,139],[-25500,141],[-24150,142],[-22700,141],[-21350,143],[-20000,142],[-18550,144],[-17200,143],[-15750,145],[-14300,146],[-12950,147],[-11500,148],[-10150,149],[-9100,148],[-8050,150],[-7000,151],[-5950,152],[-4900,151],[-3850,154],[-2800,156],[-1750,157],[-700,156],[350,159],[1400,160],[2450,159],[3500,157],[4550,155],[5600,154],[6650,152],[8050,148],[9450,145],[10850,143],[12250,140],[13650,139],[15050,137],[16450,138],[17850,137]];
const vCss45dB: Pt[] = [[-29400,107],[-26950,105],[-24150,107],[-21350,109],[-18550,110],[-15750,110],[-12950,112],[-10150,115],[-7350,119],[-5250,122],[-4200,129],[-3150,119],[-1750,109],[-700,110],[0,115],[1050,109],[2450,104],[3850,102],[5250,102],[6650,105],[8050,102],[9450,105],[12250,104],[15050,102],[17850,100]];
const vWey48dRaw: Pt[] = [[-29400,62],[-28000,40],[-26500,66],[-25000,36],[-23500,58],[-22000,72],[-20500,54],[-19000,78],[-17500,56],[-16000,84],[-14500,62],[-13000,78],[-11500,56],[-10000,80],[-8500,50],[-7000,84],[-5500,64],[-4000,92],[-2500,70],[-1000,96],[500,72],[2000,90],[3500,60],[5000,84],[6500,56],[8000,80],[9500,50],[11000,76],[12500,46],[14000,80],[15500,50],[17000,74],[17850,48]];
const vWey48d: Pt[] = [[-29400,52],[-28350,52],[-27300,45],[-26250,59],[-25200,52],[-23800,39],[-23100,52],[-22050,62],[-20650,65],[-19250,69],[-17850,62],[-16450,79],[-15050,69],[-13650,72],[-12250,62],[-10850,69],[-9450,65],[-8400,55],[-7350,69],[-5950,75],[-4900,79],[-3850,85],[-2800,82],[-1400,89],[-350,79],[350,89],[1400,102],[2100,79],[3150,72],[4550,75],[5950,79],[7350,65],[8750,75],[10150,59],[11550,55],[12950,62],[14350,52],[15750,72],[17150,59],[17850,55]];
const vSn1979c51d: Pt[] = [[-29400,15],[-26950,12],[-24150,10],[-21350,12],[-18550,10],[-15750,10],[-12950,9],[-10850,10],[-9450,19],[-8050,25],[-6650,34],[-5250,40],[-3850,44],[-2450,45],[-1050,42],[350,40],[1750,37],[3150,32],[4550,27],[6650,22],[8750,19],[10850,15],[11550,5],[12250,9],[14350,10],[16450,12],[17850,14]];

// ---------------- styling ----------------
const FONT = '"Liberation Serif", "Times New Roman", serif';
const C = {
  orange: "#FFA500", orchid: "#DA70D6", lime: "#32CD32", green: "#008000", navy: "#000080",
  magenta: "#FF00FF", cyan: "#00BFBF", gold: "#FFD700", goldText: "#FFB31A", tealText: "#1FA3A3",
  black: "#000000", red: "#FF0000", blue: "#0000FF", gray: "#808080",
};

interface Series { data: Pt[]; color: string; width: number; }
interface VLine { x: number; color: string; width: number; dash: number[]; y0?: number; y1?: number; }
interface Note { text: string; x: number; y: number; color: string; size: number; }
interface PanelSpec {
  id: string; left: number; top: number; width: number; height: number;
  xMin: number; xMax: number; yMax: number;
  xMajor: number[]; xMinorStep: number; xLabels: boolean;
  yStart: number; yMajorStep: number; yMinorStep: number;
  series: Series[]; vlines: VLine[]; notes: Note[];
}

const DASH = [5.5, 2.5];
const vl = (x: number, color: string, y0?: number, y1?: number, width = 1.5, dash = DASH): VLine => ({ x, color, y0, y1, width, dash });
const s = (data: Pt[], color: string, width: number): Series => ({ data, color, width });
const n = (text: string, x: number, y: number, color: string, size = 21): Note => ({ text, x, y, color, size });

const heITops = [184, 175, 198];
const velLines = (): VLine[] => [
  ...velGuides.map((v) => vl(v, "#C8C8C8", undefined, undefined, 2.5, [8, 5])),
  ...velZero.map((v) => vl(v, "#6E6E6E", undefined, undefined, 2.5, [8, 5])),
];

const COLS = { L: { left: 52, width: 519 }, M: { left: 579, width: 518 }, R: { left: 1108, width: 228 } };
const ROWS = { T: 4, Mi: 304, B: 602 };
const H = 284;

const waveAxis = { xMin: 3500, xMax: 9500, xMajor: waveTicks, xMinorStep: 200 };
const velAxis = { xMin: -30000, xMax: 18000, xMajor: velTicks, xMinorStep: 5000 };

const panels: PanelSpec[] = [
  {
    id: "tl", ...COLS.L, top: ROWS.T, height: H, yMax: H, ...waveAxis, xLabels: false,
    yStart: 0, yMajorStep: 71, yMinorStep: 17.75,
    series: [s(mrf5dRaw, "rgba(255,165,0,0.3)", 3), s(xnd9dRaw, "rgba(50,205,50,0.25)", 3), s(mrf5d, C.orange, 3.5), s(cow8d, C.orchid, 3.5), s(xnd9d, C.lime, 3.5), s(css9d, C.black, 4)],
    vlines: [
      ...heIILines.map((x) => vl(x, C.red, 0, 213)),
      ...balmerLines.map((x) => vl(x, C.gray, 0, 249)),
      ...heILines.map((x, i) => vl(x, C.blue, 0, heITops[i])),
    ],
    notes: [
      n("LFBOTS", 8540, 259, C.red, 24), n("Hβ", 4861, 252, "#333333"), n("Hα", 6575, 252, "#333333"),
      n("He II", 4630, 219, C.red, 17), n("He II", 5425, 219, C.red, 17),
      n("He I", 5795, 185, C.blue, 17), n("He I", 6747, 177, C.blue, 17), n("He I", 7015, 205, C.blue, 17),
      n("5d", 8942, 184, C.orange), n("8d", 8942, 113, C.orchid), n("9d", 8942, 71, C.lime), n("9d", 8942, 35, C.black),
    ],
  },
  {
    id: "tm", ...COLS.M, top: ROWS.T, height: H, yMax: H, ...waveAxis, xLabels: false,
    yStart: 0, yMajorStep: 74.7, yMinorStep: 14.94,
    series: [s(css11d, C.black, 4), s(sn1979c13d, C.gold, 3.5), s(sn2008es15d, C.green, 3.5), s(wey15d, C.navy, 2.8)],
    vlines: balmerLines.map((x) => vl(x, C.gray, 0, 239)),
    notes: [
      n("SNe and TDEs", 8384, 255, C.red, 24), n("Hβ", 4852, 245, "#333333"), n("Hα", 6575, 245, "#333333"),
      n("11d", 8824, 120, C.black), n("13d", 8824, 67, C.goldText), n("15d", 8824, 41, C.green), n("15d", 8824, 15, C.navy),
    ],
  },
  {
    id: "ml", ...COLS.L, top: ROWS.Mi, height: H, yMax: H, ...waveAxis, xLabels: false,
    yStart: 0, yMajorStep: 95, yMinorStep: 19,
    series: [s(cow27d, C.orchid, 4), s(css28dA, C.black, 3.5)],
    vlines: [
      ...heIILines.map((x) => vl(x, C.blue)),
      ...balmerLines.map((x) => vl(x, C.gray)),
      ...heILines.map((x) => vl(x, C.blue)),
    ],
    notes: [n("27d", 8910, 110, C.orchid), n("28d", 8910, 57, C.black)],
  },
  {
    id: "mm", ...COLS.M, top: ROWS.Mi, height: H, yMax: H, ...waveAxis, xLabels: false,
    yStart: 0, yMajorStep: 63.33, yMinorStep: 12.667,
    series: [s(sn2008es28d, C.green, 3.5), s(css28dB, C.black, 3.5), s(wey32d, C.navy, 3.5), s(neh37d, C.cyan, 2.8)],
    vlines: balmerLines.map((x) => vl(x, C.gray)),
    notes: [n("28d", 8824, 140, C.green), n("28d", 8824, 108, C.black), n("32d", 8824, 64, C.navy), n("37d", 8824, 20, C.tealText)],
  },
  {
    id: "mr", ...COLS.R, top: ROWS.Mi, height: H, yMax: H, ...velAxis, xLabels: false,
    yStart: 15, yMajorStep: 75, yMinorStep: 15,
    series: [s(vCss45dRaw, "rgba(128,128,128,0.45)", 3), s(vCow27d, C.orchid, 3.5), s(vCss28d, C.black, 5), s(vCow44d, C.orchid, 3.5), s(vCss45d, C.black, 5)],
    vlines: velLines(),
    notes: [n("27d", -24500, 218, C.orchid, 22), n("28d", -24500, 165, C.black, 22), n("44d", -24500, 98, C.orchid, 22), n("45d", -24500, 38, C.black, 22), n("Hα", 4830, 259, C.red, 26)],
  },
  {
    id: "bl", ...COLS.L, top: ROWS.B, height: H, yMax: H, ...waveAxis, xLabels: true,
    yStart: 0, yMajorStep: 76.7, yMinorStep: 15.34,
    series: [s(cow44dRaw, "rgba(218,112,214,0.3)", 3), s(css45dRawA, "rgba(128,128,128,0.5)", 3), s(cow44d, C.orchid, 3.5), s(css45dA, C.black, 3.5)],
    vlines: [
      ...heIILines.map((x) => vl(x, C.red)),
      ...balmerLines.map((x) => vl(x, C.gray)),
      ...heILines.map((x) => vl(x, C.blue)),
    ],
    notes: [n("44d", 8806, 216, C.orchid), n("45d", 8806, 77, C.black)],
  },
  {
    id: "bm", ...COLS.M, top: ROWS.B, height: H, yMax: H, ...waveAxis, xLabels: true,
    yStart: 14, yMajorStep: 106, yMinorStep: 0,
    series: [s(zr45d, C.magenta, 4.5), s(css45dB, C.black, 3), s(wey48d, C.navy, 3), s(sn2008es50d, C.green, 3.5), s(sn1979c51d, C.gold, 3)],
    vlines: balmerLines.map((x) => vl(x, C.gray, 13, 224)),
    notes: [n("45d", 8824, 183, C.magenta), n("45d", 8824, 140, C.black), n("48d", 8824, 102, C.navy), n("50d", 8824, 45, C.green), n("51d", 8824, 22, C.goldText)],
  },
  {
    id: "br", ...COLS.R, top: ROWS.B, height: H, yMax: H, ...velAxis, xLabels: true,
    yStart: 44, yMajorStep: 87.5, yMinorStep: 0,
    series: [
      s(vWey32dRaw, "rgba(0,0,128,0.12)", 4), s(vWey48dRaw, "rgba(0,0,128,0.12)", 4),
      s(vCss28dB, C.black, 5), s(vWey32d, C.navy, 3.5), s(vNeh37d, C.cyan, 3), s(vZr45d, C.magenta, 4.5),
      s(vCss45dB, C.black, 5), s(vWey48d, C.navy, 4), s(vSn1979c51d, C.gold, 3),
    ],
    vlines: velLines(),
    notes: [
      n("28d", 8680, 264, C.black, 22), n("32d", -24500, 229, C.navy, 22), n("37d", 6650, 194, C.tealText, 22),
      n("45d", -24500, 150, C.magenta, 22), n("45d", 6650, 119, C.black, 22), n("48d", -24500, 75, C.navy, 22), n("51d", -24500, 17, C.goldText, 22),
    ],
  },
];

const fmtTick = (v: number) => (v < 0 ? "\u2212" + Math.abs(v) : String(v));

function makeDecor(p: PanelSpec) {
  return {
    id: "decor_" + p.id,
    beforeDatasetsDraw(chart: any) {
      const { ctx, chartArea: a } = chart;
      const xs = chart.scales.x, ys = chart.scales.y;
      ctx.save();
      ctx.beginPath();
      ctx.rect(a.left, a.top, a.right - a.left, a.bottom - a.top);
      ctx.clip();
      for (const l of p.vlines) {
        const px = xs.getPixelForValue(l.x);
        const yb = l.y0 === undefined ? a.bottom : ys.getPixelForValue(l.y0);
        const yt = l.y1 === undefined ? a.top : ys.getPixelForValue(l.y1);
        ctx.strokeStyle = l.color;
        ctx.lineWidth = l.width;
        ctx.setLineDash(l.dash);
        ctx.beginPath();
        ctx.moveTo(px, yb);
        ctx.lineTo(px, yt);
        ctx.stroke();
      }
      ctx.restore();
    },
    afterDraw(chart: any) {
      const { ctx, chartArea: a } = chart;
      const xs = chart.scales.x, ys = chart.scales.y;
      ctx.save();
      ctx.setLineDash([]);
      ctx.textAlign = "center";
      ctx.textBaseline = "alphabetic";
      for (const t of p.notes) {
        ctx.font = `${t.size}px ${FONT}`;
        ctx.fillStyle = t.color;
        ctx.fillText(t.text, xs.getPixelForValue(t.x), ys.getPixelForValue(t.y));
      }
      ctx.strokeStyle = "#000";
      const isMajX = (v: number) => p.xMajor.some((m) => Math.abs(m - v) < 1e-6);
      ctx.lineWidth = 1;
      for (let v = Math.ceil(p.xMin / p.xMinorStep) * p.xMinorStep; v <= p.xMax; v += p.xMinorStep) {
        if (isMajX(v) || v <= p.xMin || v >= p.xMax) continue;
        const px = Math.round(xs.getPixelForValue(v)) + 0.5;
        ctx.beginPath();
        ctx.moveTo(px, a.bottom);
        ctx.lineTo(px, a.bottom - 4);
        ctx.stroke();
      }
      ctx.lineWidth = 1.5;
      for (const v of p.xMajor) {
        const px = xs.getPixelForValue(v);
        ctx.beginPath();
        ctx.moveTo(px, a.bottom);
        ctx.lineTo(px, a.bottom + 7);
        ctx.stroke();
      }
      const majors: number[] = [];
      for (let k = -20; k <= 20; k++) {
        const v = p.yStart + k * p.yMajorStep;
        if (v > 1 && v < p.yMax - 1) majors.push(v);
      }
      ctx.lineWidth = 1.5;
      for (const v of majors) {
        const py = ys.getPixelForValue(v);
        ctx.beginPath();
        ctx.moveTo(a.left, py);
        ctx.lineTo(a.left - 7, py);
        ctx.stroke();
      }
      if (p.yMinorStep > 0) {
        ctx.lineWidth = 1;
        for (let k = -100; k <= 100; k++) {
          const v = p.yStart + k * p.yMinorStep;
          if (v <= 1 || v >= p.yMax - 1) continue;
          if (majors.some((m) => Math.abs(m - v) < 0.5)) continue;
          const py = Math.round(ys.getPixelForValue(v)) + 0.5;
          ctx.beginPath();
          ctx.moveTo(a.left, py);
          ctx.lineTo(a.left + 4, py);
          ctx.stroke();
        }
      }
      ctx.lineWidth = 2;
      ctx.strokeRect(a.left, a.top, a.right - a.left, a.bottom - a.top);
      if (p.xLabels) {
        ctx.font = `24px ${FONT}`;
        ctx.fillStyle = "#000";
        for (const v of p.xMajor) ctx.fillText(fmtTick(v), xs.getPixelForValue(v), a.bottom + 31.5);
      }
      ctx.restore();
    },
  };
}

function Panel({ spec }: { spec: PanelSpec }) {
  const ref = useRef<HTMLCanvasElement | null>(null);
  const padL = 12, padR = 6, padT = Math.min(6, spec.top), padB = spec.xLabels ? 42 : 12;
  const cw = spec.width + padL + padR;
  const ch = spec.height + padT + padB;
  useEffect(() => {
    if (!ref.current) return;
    const nSeries = spec.series.length;
    const chart = new Chart(ref.current, {
      type: "line",
      data: {
        datasets: spec.series.map((sr, i) => ({
          data: sr.data.map(([x, y]) => ({ x, y })),
          borderColor: sr.color,
          borderWidth: sr.width,
          pointRadius: 0,
          tension: 0,
          fill: false,
          borderJoinStyle: "round",
          borderCapStyle: "round",
          order: nSeries - i,
        })),
      },
      options: {
        responsive: false,
        maintainAspectRatio: false,
        animation: false,
        events: [],
        layout: { padding: { left: padL, right: padR, top: padT, bottom: padB } },
        scales: {
          x: { type: "linear", min: spec.xMin, max: spec.xMax, display: false },
          y: { type: "linear", min: 0, max: spec.yMax, display: false },
        },
        plugins: { legend: { display: false }, tooltip: { enabled: false }, title: { display: false } },
      },
      plugins: [makeDecor(spec)],
    } as any);
    return () => chart.destroy();
  }, [spec]);
  return (
    <canvas
      ref={ref}
      width={cw}
      height={ch}
      style={{ position: "absolute", left: spec.left - padL, top: spec.top - padT, width: cw, height: ch, display: "block" }}
    />
  );
}

function Txt(props: { x: number; base: number; size: number; color?: string; center?: boolean; children: React.ReactNode }) {
  const { x, base, size, color = "#000", center = false, children } = props;
  return (
    <div
      style={{
        position: "absolute",
        left: x,
        top: base - 0.8375 * size,
        fontFamily: FONT,
        fontSize: size,
        lineHeight: `${size}px`,
        color,
        whiteSpace: "nowrap",
        transform: center ? "translateX(-50%)" : undefined,
      }}
    >
      {children}
    </div>
  );
}

const legendColors = [C.orange, C.green, C.orchid, C.orange, C.lime, C.magenta, C.cyan, C.navy];

export default function App() {
  const rowBase = (i: number) => 64 + 26.14 * i;
  return (
    <div style={{ position: "absolute", left: 0, top: 0, width: 1350, height: 961, overflow: "hidden", background: "#fff" }}>
      {panels.map((p) => (
        <Panel key={p.id} spec={p} />
      ))}
      <Txt x={1108} base={29.5} size={24}>CSS161010</Txt>
      {legendHeads.map((t, i) => (
        <Txt key={t} x={1108} base={rowBase(legendHeadRows[i])} size={23} color={C.gray}>{t}</Txt>
      ))}
      {legendNames.map((t, i) => (
        <Txt key={t} x={1212} base={rowBase(i)} size={23} color={legendColors[i]}>{t}</Txt>
      ))}
      <Txt x={1222} base={295} size={32} color={C.red} center>Hα comparison</Txt>
      <Txt x={312} base={949} size={26} center>Rest Wavelength [Å]</Txt>
      <Txt x={838} base={949} size={26} center>Rest Wavelength [Å]</Txt>
      <Txt x={1222} base={949} size={26} center>
        Velocity [km s<span style={{ fontSize: "0.7em", position: "relative", top: "-0.55em" }}>{"\u22121"}</span>]
      </Txt>
      <div
        style={{
          position: "absolute",
          left: 23,
          top: 435,
          fontFamily: FONT,
          fontSize: 29,
          lineHeight: "29px",
          whiteSpace: "nowrap",
          color: "#000",
          transform: "translate(-50%, -50%) rotate(-90deg)",
        }}
      >
        Flux density + Const.
      </div>
    </div>
  );
}
